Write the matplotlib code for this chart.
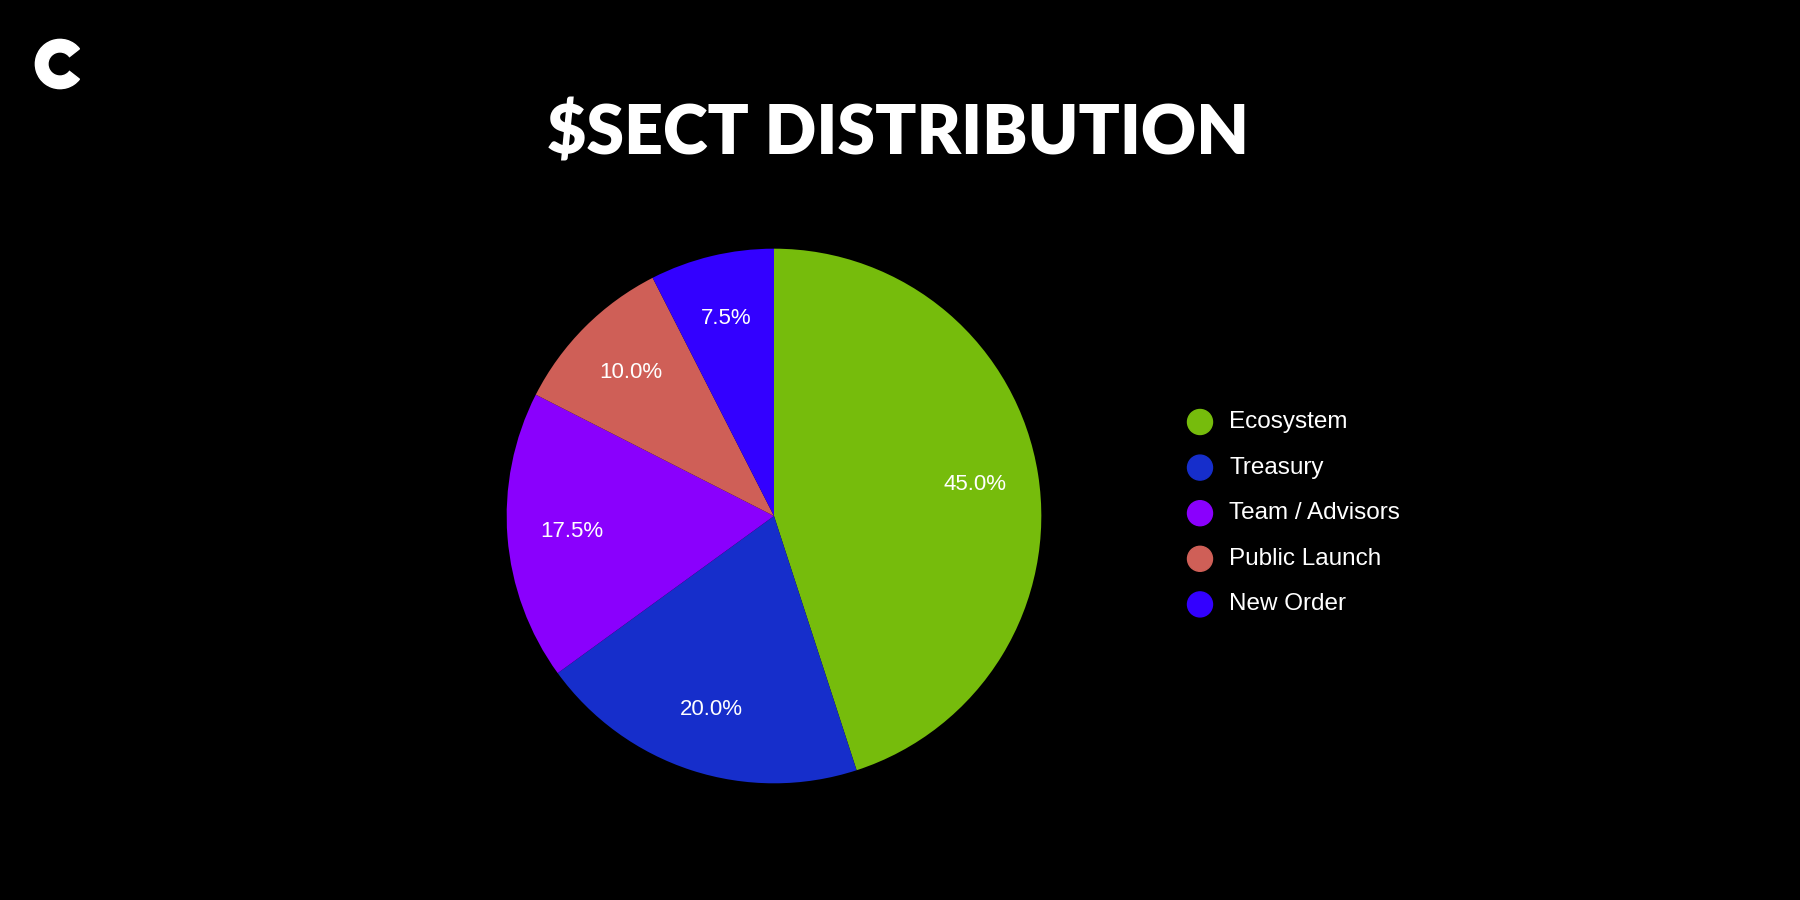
import matplotlib.pyplot as plt
from matplotlib.patches import Wedge, Ellipse

# data
labels = ["Ecosystem", "Treasury", "Team / Advisors", "Public Launch", "New Order"]
shares = [45.0, 20.0, 17.5, 10.0, 7.5]
colors = ["#76bc0c", "#162ecb", "#8a00fd", "#cf5f57", "#3300ff"]
title = "$SECT DISTRIBUTION"

fig = plt.figure(figsize=(18, 9), dpi=100, facecolor="black")

# title
fig.text(0.499, 0.851, title, ha="center", va="center", color="white",
         fontsize=49, fontweight="heavy", family="Lato")

# pie
ax = fig.add_axes([(774 - 270) / 1800, 1 - (516 + 270) / 900, 540 / 1800, 540 / 900])
ax.set_facecolor("black")
wedges, texts, autotexts = ax.pie(
    shares, colors=colors, startangle=90, counterclock=False,
    autopct="%.1f%%", pctdistance=0.76,
    wedgeprops=dict(linewidth=0),
    textprops=dict(color="white", fontsize=16, family="Liberation Sans"),
    radius=1.0)
ax.set_xlim(-1.01, 1.01)
ax.set_ylim(-1.01, 1.01)
ax.set_aspect("equal")
ax.axis("off")

# legend
leg_x = 1200 / 1800
r = 12.5
for i, (lab, col) in enumerate(zip(labels, colors)):
    y = 1 - (422 + i * 45.6) / 900
    fig.patches.append(Ellipse((leg_x, y), 2 * r / 1800, 2 * r / 900, color=col,
                               transform=fig.transFigure, figure=fig))
    fig.text(1229 / 1800, y, lab, color="white", fontsize=17.5, ha="left", va="center",
             family="Liberation Sans")

# logo
lax = fig.add_axes([32 / 1800, 1 - 92 / 900, 56 / 1800, 56 / 900])
lax.set_xlim(-1, 1)
lax.set_ylim(-1, 1)
lax.set_aspect("equal")
lax.axis("off")
lax.add_patch(Wedge((0, 0), 0.88, 38, 322, width=0.45, color="white"))

fig.savefig("out.png", facecolor="black")
